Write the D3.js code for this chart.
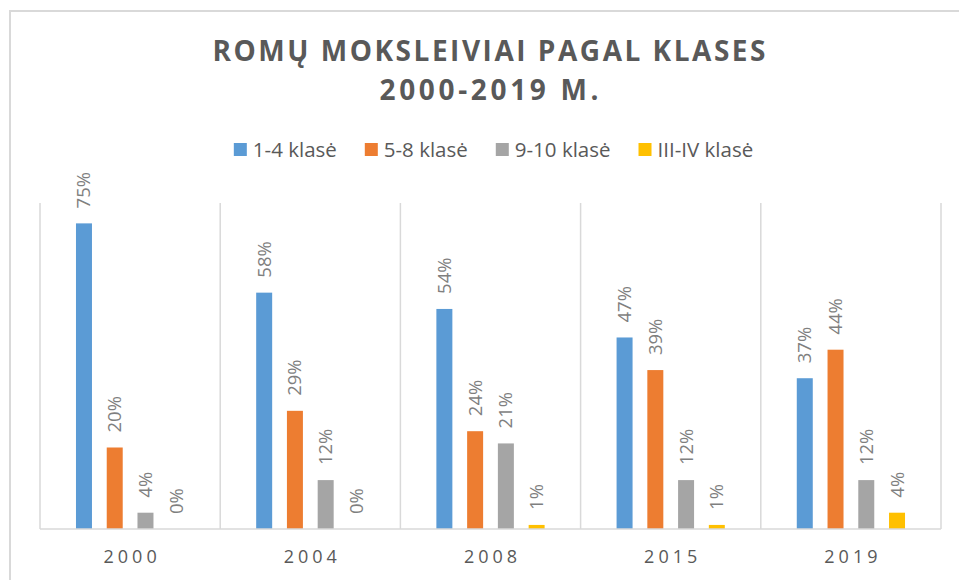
<!DOCTYPE html>
<head>
  <meta charset="utf-8">
  <script src="https://d3js.org/d3.v7.min.js"></script>
  <style>
    body { margin:0; background:#fff; }
    svg { display:block; }
  </style>
</head>
<body>
  <svg width="959" height="580"></svg>
  <script>
    // data
    var years = ['2000', '2004', '2008', '2015', '2019'];
    var seriesNames = ['1-4 klasė', '5-8 klasė', '9-10 klasė', 'III-IV klasė'];
    var seriesColors = ['#5b9bd5', '#ed7d31', '#a5a5a5', '#ffc000'];
    var k1_4 = [0.75, 0.58, 0.54, 0.47, 0.37];
    var k5_8 = [0.20, 0.29, 0.24, 0.39, 0.44];
    var k9_10 = [0.04, 0.12, 0.21, 0.12, 0.12];
    var kIII_IV = [0.00, 0.00, 0.01, 0.01, 0.04];
    var titleLines = ['ROMŲ MOKSLEIVIAI PAGAL KLASES', '2000-2019 M.'];

    var seriesValues = [k1_4, k5_8, k9_10, kIII_IV];
    var font = '"Open Sans", "Noto Sans", sans-serif';
    var plot = {left: 40, right: 941, top: 203, bottom: 529};

    var svg = d3.select('svg');

    // outer chart border (right / bottom edges fall outside the picture)
    svg.append('rect')
      .attr('x', 10).attr('y', 11)
      .attr('width', 970).attr('height', 600)
      .attr('fill', 'none')
      .attr('stroke', '#d9d9d9')
      .attr('stroke-width', 2);

    // title
    svg.append('g').selectAll('text')
      .data(titleLines)
      .enter().append('text')
      .attr('x', 489)
      .attr('y', (d, i) => i == 0 ? 61 : 100)
      .attr('text-anchor', 'middle')
      .attr('textLength', (d, i) => i == 0 ? 553 : 219)
      .attr('lengthAdjust', 'spacing')
      .style('font-family', font)
      .style('font-weight', 'bold')
      .style('font-size', '28px')
      .style('fill', '#595959')
      .text(d => d);

    // scales
    var x0 = d3.scaleBand()
      .domain(years)
      .range([plot.left, plot.right]);
    var x1 = d3.scaleBand()
      .domain(d3.range(seriesNames.length))
      .range([0, x0.bandwidth()])
      .paddingInner(0.48)
      .paddingOuter(1.17);
    var y = d3.scaleLinear()
      .domain([0, 0.8])
      .range([plot.bottom, plot.top]);

    // vertical separators between categories
    var bounds = years.map(d => x0(d)).concat([plot.right]);
    svg.append('g').selectAll('line')
      .data(bounds)
      .enter().append('line')
      .attr('x1', d => d).attr('x2', d => d)
      .attr('y1', plot.top).attr('y2', plot.bottom)
      .attr('stroke', '#d9d9d9')
      .attr('stroke-width', 1.5);

    // bars
    var flat = [];
    seriesValues.forEach((arr, s) => {
      arr.forEach((v, i) => flat.push({year: years[i], s: s, v: v}));
    });

    var bars = svg.append('g');
    bars.selectAll('rect')
      .data(flat)
      .enter().append('rect')
      .attr('x', d => x0(d.year) + x1(d.s))
      .attr('y', d => y(d.v))
      .attr('width', x1.bandwidth())
      .attr('height', d => y(0) - y(d.v))
      .attr('fill', d => seriesColors[d.s]);

    // data labels, rotated
    var pct = d3.format('.0%');
    bars.selectAll('text')
      .data(flat)
      .enter().append('text')
      .attr('transform', d => 'translate(' + [x0(d.year) + x1(d.s) + x1.bandwidth() / 2, y(d.v) - 15] + ') rotate(-90)')
      .attr('dy', '0.35em')
      .style('font-family', font)
      .style('font-size', '18.5px')
      .style('fill', '#7f7f7f')
      .text(d => pct(d.v));

    // category axis
    var xAxis = d3.axisBottom(x0).tickSize(0).tickPadding(21);
    var gx = svg.append('g')
      .attr('transform', 'translate(0,' + plot.bottom + ')')
      .call(xAxis);
    gx.select('.domain').remove();
    gx.selectAll('text')
      .attr('dx', '2px')
      .style('font-family', font)
      .style('font-size', '18px')
      .style('letter-spacing', '4px')
      .style('fill', '#595959');
    svg.append('line')
      .attr('x1', plot.left).attr('x2', plot.right)
      .attr('y1', plot.bottom).attr('y2', plot.bottom)
      .attr('stroke', '#d9d9d9')
      .attr('stroke-width', 1.5);

    // legend
    var legend = svg.append('g');
    var items = legend.selectAll('g')
      .data(seriesNames)
      .enter().append('g');
    items.append('rect')
      .attr('width', 13).attr('height', 13)
      .attr('y', -7)
      .attr('fill', (d, i) => seriesColors[i]);
    items.append('text')
      .attr('x', 19)
      .attr('dy', '0.35em')
      .style('font-family', font)
      .style('font-size', '20.5px')
      .style('fill', '#595959')
      .text(d => d);
    var pos = 0, offsets = [];
    items.each(function(d, i) {
      offsets.push(pos);
      pos += 19 + this.querySelector('text').getComputedTextLength() + 28;
    });
    var total = pos - 28;
    items.attr('transform', (d, i) => 'translate(' + (493.5 - total / 2 + offsets[i]) + ',150)');
  </script>
</body>
